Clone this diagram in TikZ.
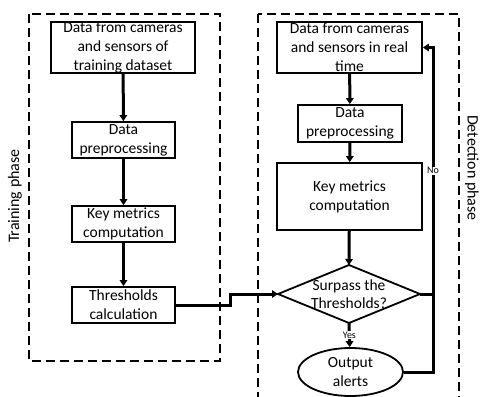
\documentclass[tikz,border=0pt]{standalone}
\usepackage{fontspec}
\setmainfont{Carlito}
\usetikzlibrary{arrows.meta,shapes.geometric}
\begin{document}
\begin{tikzpicture}[x=1pt,y=-1pt,
  box/.style={draw,line width=1.8pt,inner sep=0pt,align=center,font=\fontsize{15.5}{19}\selectfont},
  flow/.style={line width=3pt,-{Triangle[length=6pt,width=7.5pt]}},
  line/.style={line width=3pt},
  phase/.style={draw,line width=1.5pt,dash pattern=on 9pt off 5pt},
  small/.style={fill=white,inner sep=1pt,font=\fontsize{10}{12}\selectfont},
  side/.style={font=\fontsize{16}{19}\selectfont}]
\useasboundingbox (0,0) rectangle (481,396);
\clip (0,0) rectangle (481,396);
% phase frames
\draw[phase] (29,14) rectangle (220,361);
\draw[phase] (258,14) rectangle (459,410);
\node[side,rotate=90] (tp) at (15,196) {Training phase};
\node[side,rotate=-90] (dp) at (472,168) {Detection phase};
% training column
\node[box,minimum width=144pt,minimum height=51pt] (l1) at (123,47.5) {Data from cameras\\and sensors of\\training dataset};
\node[box,minimum width=103pt,minimum height=36pt] (l2) at (123.5,140) {Data\\preprocessing};
\node[box,minimum width=103pt,minimum height=36pt] (l3) at (123.5,224) {Key metrics\\computation};
\node[box,minimum width=103pt,minimum height=36pt] (l4) at (123.5,305) {Thresholds\\calculation};
% detection column
\node[box,minimum width=145pt,minimum height=51pt] (r1) at (349.5,47.5) {Data from cameras\\and sensors in real\\time};
\node[box,minimum width=104pt,minimum height=37pt] (r2) at (350,123.5) {Data\\preprocessing};
\node[box,minimum width=145pt,minimum height=67pt] (r3) at (349.5,196.5) {Key metrics\\computation};
\node[align=center,inner sep=0pt,font=\fontsize{15.5}{18}\selectfont] (d) at (349,294) {Surpass the\\Thresholds?};
\coordinate (dl) at (278,294);
\coordinate (dr) at (420,294);
\coordinate (dt) at (349,265);
\coordinate (db) at (349,323);
\draw[line width=1.8pt,line join=miter] (dl) -- (dt) -- (dr) -- (db) -- cycle;
\node[box,ellipse,minimum width=105pt,minimum height=48pt] (out) at (350.5,372) {Output\\alerts};
% arrows
\draw[flow] (l1) -- (l2);
\draw[flow] (l2) -- (l3);
\draw[flow] (l3) -- (l4);
\draw[flow] (r1) -- (r2);
\draw[flow] (r2) -- (r3);
\draw[flow] (r3) -- (dt);
\draw[flow] (db) -- node[small] (yes) {Yes} (out);
\coordinate (j1) at (230,305);
\coordinate (j2) at (230,294);
\draw[flow] (l4.east) -- (j1) -- (j2) -- (dl);
\coordinate (c1) at (433,372);
\coordinate (c2) at (433,47.5);
\draw[line] (dr) -- (dr -| c1);
\draw[flow,line join=miter] (out.east) -- (c1) -- node[small,pos=0.62] (no) {No} (c2) -- (r1.east);
\end{tikzpicture}
\end{document}
